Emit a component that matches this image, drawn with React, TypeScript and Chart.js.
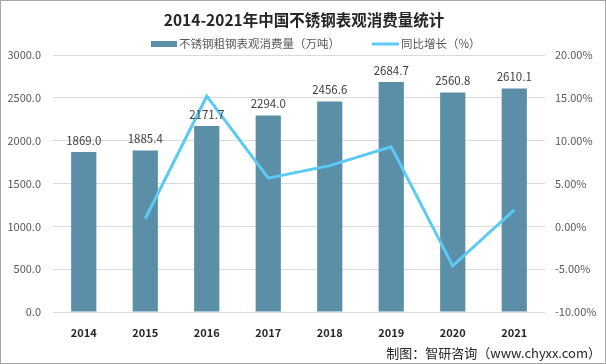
import React, { useEffect, useRef } from "react";
import { Chart, registerables } from "chart.js";

Chart.register(...registerables);

const years = ["2014", "2015", "2016", "2017", "2018", "2019", "2020", "2021"];
const consumption = [1869.0, 1885.4, 2171.7, 2294.0, 2456.6, 2684.7, 2560.8, 2610.1];
const growth = [null, 0.88, 15.19, 5.63, 7.09, 9.29, -4.62, 1.93];
const titleText = "2014-2021年中国不锈钢表观消费量统计";
const barLabel = "不锈钢粗钢表观消费量（万吨）";
const lineLabel = "同比增长（%）";
const sourceText = "制图：智研咨询（www.chyxx.com）";

const BAR_COLOR = "#5b8fa7";
const LINE_COLOR = "#5ccaf5";
const FONT = "'Noto Sans CJK SC', 'Liberation Sans', sans-serif";

const decorPlugin = {
  id: "decor",
  afterDatasetsDraw(chart: any) {
    const ctx = chart.ctx;
    ctx.save();
    const meta = chart.getDatasetMeta(0);
    ctx.font = `11.5px ${FONT}`;
    ctx.fillStyle = "#404040";
    ctx.textAlign = "center";
    ctx.textBaseline = "bottom";
    meta.data.forEach((el: any, i: number) => {
      ctx.fillText(consumption[i].toFixed(1), el.x, el.y - 6);
    });
    ctx.restore();
  },
  afterDraw(chart: any) {
    const ctx = chart.ctx;
    ctx.save();
    // title
    ctx.font = `bold 15.5px ${FONT}`;
    ctx.fillStyle = "#262626";
    ctx.textAlign = "center";
    ctx.textBaseline = "middle";
    ctx.fillText(titleText, 303, 19);
    // legend
    ctx.font = `11.5px ${FONT}`;
    ctx.textAlign = "left";
    ctx.fillStyle = BAR_COLOR;
    ctx.fillRect(150, 40, 26, 6);
    ctx.fillStyle = "#595959";
    ctx.fillText(chart.data.datasets[0].label, 178, 43);
    ctx.strokeStyle = LINE_COLOR;
    ctx.lineWidth = 3;
    ctx.beginPath();
    ctx.moveTo(371, 43);
    ctx.lineTo(398, 43);
    ctx.stroke();
    ctx.fillText(chart.data.datasets[1].label, 400, 43);
    // source
    ctx.font = `13px ${FONT}`;
    ctx.fillStyle = "#262626";
    ctx.textAlign = "right";
    ctx.fillText(sourceText, 600, 352);
    ctx.restore();
  },
};

export default function App() {
  const ref = useRef<HTMLCanvasElement>(null);
  useEffect(() => {
    document.body.style.margin = "0";
    const chart = new Chart(ref.current!, {
      type: "bar",
      data: {
        labels: years,
        datasets: [
          {
            type: "bar",
            label: barLabel,
            data: consumption,
            yAxisID: "y",
            backgroundColor: BAR_COLOR,
            barPercentage: 0.41,
            categoryPercentage: 1,
            order: 1,
          } as any,
          {
            type: "line",
            label: lineLabel,
            data: growth,
            yAxisID: "y1",
            borderColor: LINE_COLOR,
            backgroundColor: LINE_COLOR,
            borderWidth: 3,
            pointRadius: 0,
            tension: 0,
            order: 0,
          } as any,
        ],
      },
      options: {
        animation: false,
        responsive: false,
        layout: { padding: { top: 54, left: 0, right: 0, bottom: 0 } },
        plugins: {
          legend: { display: false },
          title: { display: false },
          tooltip: { enabled: false },
        },
        scales: {
          x: {
            grid: { display: false },
            border: { display: false },
            ticks: {
              font: { family: FONT, size: 11, weight: "bold" },
              color: "#262626",
              padding: 6,
            },
            afterFit(scale: any) {
              scale.height = 51;
            },
          },
          y: {
            position: "left",
            min: 0,
            max: 3000,
            ticks: {
              stepSize: 500,
              font: { family: FONT, size: 11 },
              color: "#595959",
              padding: 12,
              callback: (v: any) => Number(v).toFixed(1),
            },
            grid: { color: "#d9d9d9", drawTicks: false },
            border: { display: false },
            afterFit(scale: any) {
              scale.width = 52;
            },
          },
          y1: {
            position: "right",
            min: -10,
            max: 20,
            ticks: {
              stepSize: 5,
              font: { family: FONT, size: 11 },
              color: "#595959",
              padding: 10,
              callback: (v: any) => Number(v).toFixed(2) + "%",
            },
            grid: { display: false, drawTicks: false },
            border: { display: false },
            afterFit(scale: any) {
              scale.width = 60;
            },
          },
        },
      } as any,
      plugins: [decorPlugin],
    });
    return () => chart.destroy();
  }, []);
  return (
    <div
      style={{
        width: 606,
        height: 364,
        boxSizing: "border-box",
        border: "1px solid #a6a6a6",
        background: "#fff",
        position: "relative",
      }}
    >
      <canvas ref={ref} width={604} height={362} style={{ display: "block" }} />
    </div>
  );
}
